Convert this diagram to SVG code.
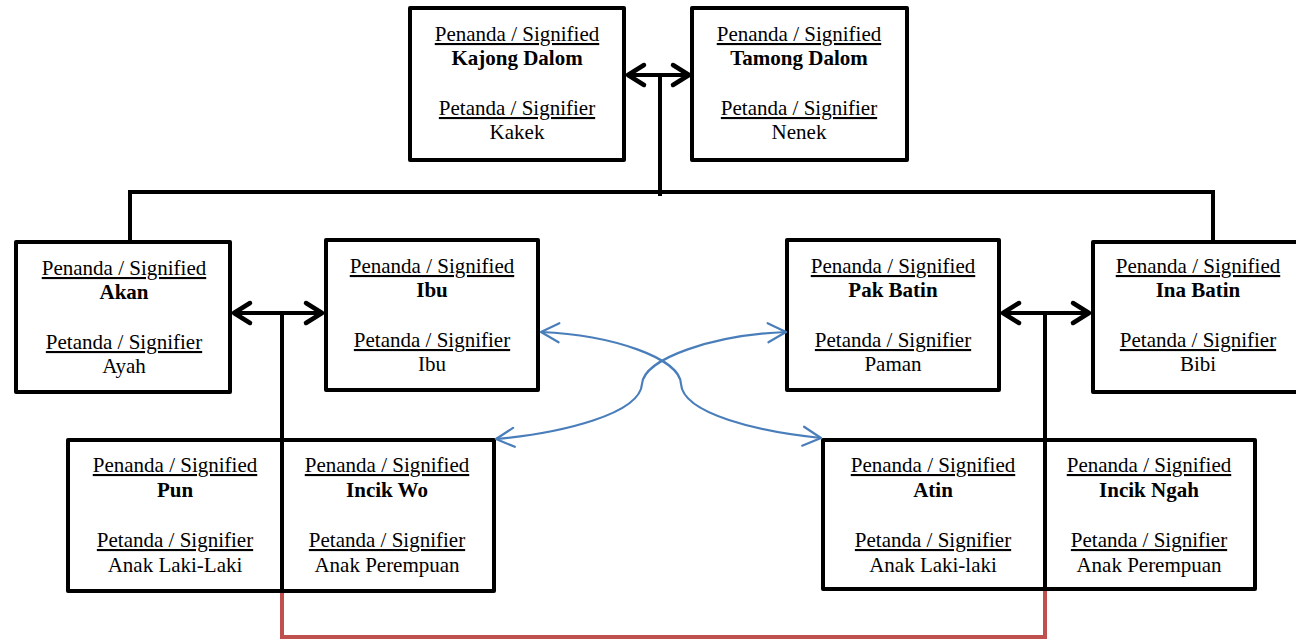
<svg xmlns="http://www.w3.org/2000/svg" width="1296" height="642" viewBox="0 0 1296 642">
  <defs>
    <style>
      .box { fill: #ffffff; stroke: #000000; stroke-width: 4; stroke-linejoin: round; }
      .t { font-family: "Liberation Serif", "Times New Roman", serif; font-size: 21px; fill: #000000; text-anchor: middle; }
      .u { text-decoration: underline; }
      .b { font-weight: bold; }
      .link { fill: none; stroke: #000000; stroke-width: 4; }
      .kin { fill: none; stroke: #4a7ebb; stroke-width: 2.2; }
      .sib { fill: none; stroke: #c0504d; stroke-width: 4; }
    </style>
    <marker id="arrowBlack" viewBox="-22 -14 28 28" refX="0" refY="0" markerWidth="28" markerHeight="28" markerUnits="userSpaceOnUse" orient="auto-start-reverse">
      <path d="M-16,-10 L0,0 L-16,10" fill="none" stroke="#000000" stroke-width="4.5" stroke-linecap="round" stroke-linejoin="round"/>
    </marker>
    <marker id="arrowBlue" viewBox="-22 -14 28 28" refX="0" refY="0" markerWidth="28" markerHeight="28" markerUnits="userSpaceOnUse" orient="auto-start-reverse">
      <path d="M-18,-9.5 L0,0 L-18,9.5" fill="none" stroke="#4a7ebb" stroke-width="2.2" stroke-linecap="round" stroke-linejoin="round"/>
    </marker>
  </defs>

  <rect width="1296" height="642" fill="#ffffff"/>

  <!-- generation 1 -->
  <g id="kajong-dalom">
    <rect class="box" x="410" y="8" width="214" height="152"/>
    <text class="t u" x="517" y="41">Penanda / Signified</text>
    <text class="t b" x="517" y="65">Kajong Dalom</text>
    <text class="t u" x="517" y="115">Petanda / Signifier</text>
    <text class="t" x="517" y="139">Kakek</text>
  </g>
  <g id="tamong-dalom">
    <rect class="box" x="692" y="8" width="215" height="152"/>
    <text class="t u" x="799" y="41">Penanda / Signified</text>
    <text class="t b" x="799" y="65">Tamong Dalom</text>
    <text class="t u" x="799" y="115">Petanda / Signifier</text>
    <text class="t" x="799" y="139">Nenek</text>
  </g>

  <!-- generation 2 -->
  <g id="akan">
    <rect class="box" x="16" y="242" width="214" height="150"/>
    <text class="t u" x="124" y="275">Penanda / Signified</text>
    <text class="t b" x="124" y="299">Akan</text>
    <text class="t u" x="124" y="349">Petanda / Signifier</text>
    <text class="t" x="124" y="373">Ayah</text>
  </g>
  <g id="ibu">
    <rect class="box" x="326" y="240" width="212" height="150"/>
    <text class="t u" x="432" y="273">Penanda / Signified</text>
    <text class="t b" x="432" y="297">Ibu</text>
    <text class="t u" x="432" y="347">Petanda / Signifier</text>
    <text class="t" x="432" y="371">Ibu</text>
  </g>
  <g id="pak-batin">
    <rect class="box" x="787" y="240" width="212" height="150"/>
    <text class="t u" x="893" y="273">Penanda / Signified</text>
    <text class="t b" x="893" y="297">Pak Batin</text>
    <text class="t u" x="893" y="347">Petanda / Signifier</text>
    <text class="t" x="893" y="371">Paman</text>
  </g>
  <g id="ina-batin">
    <rect class="box" x="1093" y="242" width="215" height="150"/>
    <text class="t u" x="1198" y="273">Penanda / Signified</text>
    <text class="t b" x="1198" y="297">Ina Batin</text>
    <text class="t u" x="1198" y="347">Petanda / Signifier</text>
    <text class="t" x="1198" y="371">Bibi</text>
  </g>

  <!-- generation 3 -->
  <g id="pun">
    <rect class="box" x="68" y="440" width="214" height="151"/>
    <text class="t u" x="175" y="472">Penanda / Signified</text>
    <text class="t b" x="175" y="497">Pun</text>
    <text class="t u" x="175" y="547">Petanda / Signifier</text>
    <text class="t" x="175" y="572">Anak Laki-Laki</text>
  </g>
  <g id="incik-wo">
    <rect class="box" x="282" y="440" width="212" height="151"/>
    <text class="t u" x="387" y="472">Penanda / Signified</text>
    <text class="t b" x="387" y="497">Incik Wo</text>
    <text class="t u" x="387" y="547">Petanda / Signifier</text>
    <text class="t" x="387" y="572">Anak Perempuan</text>
  </g>
  <g id="atin">
    <rect class="box" x="823" y="440" width="222" height="149"/>
    <text class="t u" x="933" y="472">Penanda / Signified</text>
    <text class="t b" x="933" y="497">Atin</text>
    <text class="t u" x="933" y="547">Petanda / Signifier</text>
    <text class="t" x="933" y="572">Anak Laki-laki</text>
  </g>
  <g id="incik-ngah">
    <rect class="box" x="1045" y="440" width="210" height="149"/>
    <text class="t u" x="1149" y="472">Penanda / Signified</text>
    <text class="t b" x="1149" y="497">Incik Ngah</text>
    <text class="t u" x="1149" y="547">Petanda / Signifier</text>
    <text class="t" x="1149" y="572">Anak Perempuan</text>
  </g>

  <g id="connectors">
    <!-- marriage links -->
    <line class="link" x1="628" y1="75" x2="689" y2="75" marker-start="url(#arrowBlack)" marker-end="url(#arrowBlack)"/>
    <line class="link" x1="234" y1="313" x2="322" y2="313" marker-start="url(#arrowBlack)" marker-end="url(#arrowBlack)"/>
    <line class="link" x1="1003" y1="313" x2="1089" y2="313" marker-start="url(#arrowBlack)" marker-end="url(#arrowBlack)"/>
    <!-- descent lines -->
    <line class="link" x1="660" y1="75" x2="660" y2="196"/>
    <path class="link" d="M130,242 V192 H1213 V242"/>
    <line class="link" x1="282" y1="313" x2="282" y2="440"/>
    <line class="link" x1="1045" y1="313" x2="1045" y2="440"/>
    <!-- sibling link between the two families -->
    <path class="sib" d="M282,593 V637 H1045 V591"/>
    <!-- crossing kinship curves -->
    <path class="kin" d="M541,332 C612,335 680,358 681,384 C683,414 760,432 821,438" marker-start="url(#arrowBlue)" marker-end="url(#arrowBlue)"/>
    <path class="kin" d="M786,332 C714,335 644,358 642,384 C640,414 562,433 496,439" marker-start="url(#arrowBlue)" marker-end="url(#arrowBlue)"/>
  </g>
</svg>
